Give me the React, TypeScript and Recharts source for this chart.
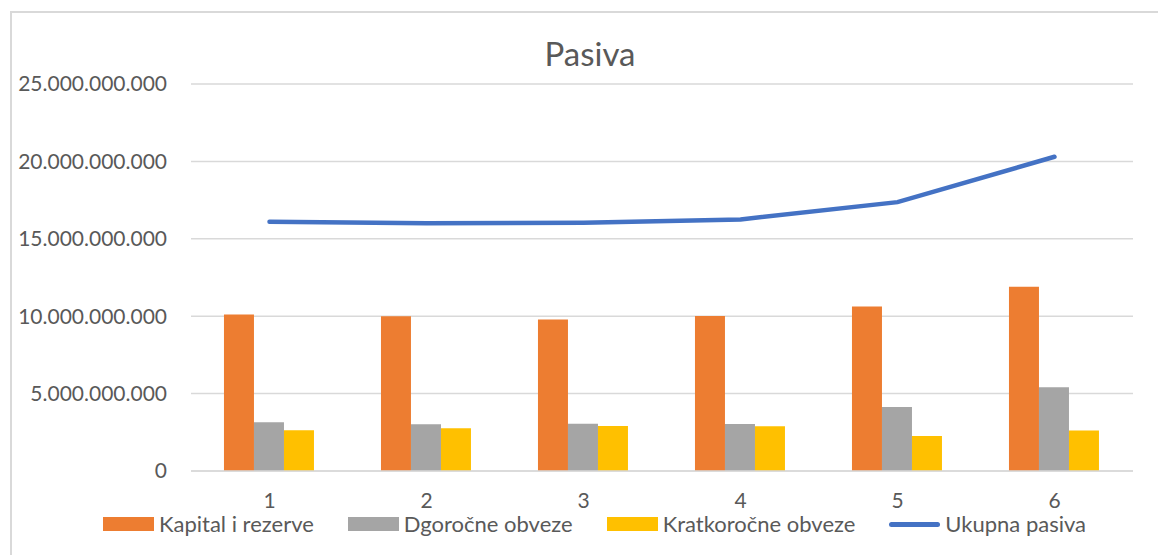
import React from 'react';
import { ComposedChart, Bar, Line, XAxis, YAxis, CartesianGrid } from 'recharts';

const categories = ['1', '2', '3', '4', '5', '6'];
const kapitalIRezerve = [10.11e9, 10.0e9, 9.79e9, 10.02e9, 10.63e9, 11.9e9];
const dugorocneObveze = [3.15e9, 3.02e9, 3.06e9, 3.04e9, 4.14e9, 5.41e9];
const kratkorocneObveze = [2.63e9, 2.76e9, 2.91e9, 2.89e9, 2.26e9, 2.61e9];
const ukupnaPasiva = [16.1e9, 16.0e9, 16.03e9, 16.25e9, 17.37e9, 20.3e9];
const yTicks = [0, 5e9, 10e9, 15e9, 20e9, 25e9];

const FONT = 'Lato, "Open Sans", sans-serif';
const TEXT = '#595959';

const data = categories.map((c, i) => ({
  name: c,
  kapital: kapitalIRezerve[i],
  dugorocne: dugorocneObveze[i],
  kratkorocne: kratkorocneObveze[i],
  ukupno: ukupnaPasiva[i],
}));

const legendItems = [
  { label: 'Kapital i rezerve', color: '#ED7D31', type: 'rect' },
  { label: 'Dgoročne obveze', color: '#A5A5A5', type: 'rect' },
  { label: 'Kratkoročne obveze', color: '#FFC000', type: 'rect' },
  { label: 'Ukupna pasiva', color: '#4472C4', type: 'line' },
];

const fmt = (v: number) => String(Math.round(v)).replace(/\B(?=(\d{3})+(?!\d))/g, '.');

const App: React.FC = () => {
  return (
    <div style={{ position: 'fixed', left: 0, top: 0, width: 1158, height: 555, background: '#fff', overflow: 'hidden', fontFamily: FONT }}>
      <div style={{ position: 'absolute', left: 10, top: 11, width: 1200, height: 600, borderTop: '2px solid #d9d9d9', borderLeft: '2px solid #d9d9d9' }} />
      <div style={{ position: 'absolute', left: 0, width: 1180, top: 33, textAlign: 'center', fontSize: 33, color: TEXT }}>
        Pasiva
      </div>
      <div style={{ position: 'absolute', left: 0, top: 0 }}>
        <ComposedChart width={1158} height={555} data={data} margin={{ top: 84, right: 25, bottom: 54, left: 0 }} barCategoryGap="21%" barGap={0}>
          <CartesianGrid vertical={false} stroke="#d9d9d9" strokeWidth={1.5} />
          <XAxis dataKey="name" height={30} tickLine={false} tickSize={0} tickMargin={22} axisLine={{ stroke: '#d9d9d9', strokeWidth: 1.5 }}
            tick={{ fill: TEXT, fontSize: 21, fontFamily: FONT }} />
          <YAxis width={191} domain={[0, 25e9]} ticks={yTicks} tickFormatter={fmt} axisLine={false} tickLine={false} tickSize={0} tickMargin={24}
            tick={{ fill: TEXT, fontSize: 21, fontFamily: FONT }} />
          <Bar dataKey="kapital" fill="#ED7D31" isAnimationActive={false} />
          <Bar dataKey="dugorocne" fill="#A5A5A5" isAnimationActive={false} />
          <Bar dataKey="kratkorocne" fill="#FFC000" isAnimationActive={false} />
          <Line dataKey="ukupno" stroke="#4472C4" strokeWidth={4.5} strokeLinecap="round" dot={false} activeDot={false} type="linear" isAnimationActive={false} />
        </ComposedChart>
      </div>
      <div style={{ position: 'absolute', left: 103, top: 513, display: 'flex', alignItems: 'center', fontSize: 22, lineHeight: '22px', color: TEXT, whiteSpace: 'nowrap' }}>
        {legendItems.map((it) => (
          <div key={it.label} style={{ display: 'flex', alignItems: 'center', marginRight: 34 }}>
            <div style={{ width: 51, height: it.type === 'rect' ? 14 : 5, borderRadius: it.type === 'rect' ? 0 : 3, background: it.color, marginRight: 5 }} />
            <span>{it.label}</span>
          </div>
        ))}
      </div>
    </div>
  );
};

export default App;
